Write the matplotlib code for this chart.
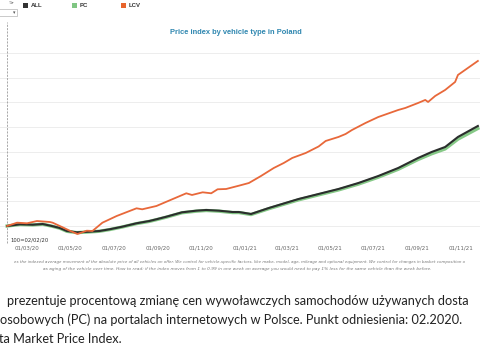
import matplotlib
matplotlib.use("Agg")
import matplotlib.pyplot as plt
import matplotlib.dates as mdates
from matplotlib.patches import Rectangle
import pandas as pd

# values (index, 100 = 02/02/20)
all_dates = ["2020-02-02", "2020-02-20", "2020-03-09", "2020-03-23", "2020-04-05",
             "2020-04-16", "2020-04-26", "2020-05-10", "2020-05-28", "2020-06-11",
             "2020-06-25", "2020-07-13", "2020-08-02", "2020-08-20", "2020-08-30",
             "2020-09-13", "2020-10-05", "2020-10-25", "2020-11-08", "2020-11-26",
             "2020-12-15", "2020-12-24", "2021-01-10", "2021-02-04", "2021-03-18",
             "2021-05-13", "2021-06-10", "2021-07-08", "2021-08-05", "2021-09-02",
             "2021-09-21", "2021-10-10", "2021-10-28", "2021-11-25"]
all_vals = [100.0, 100.34, 100.26, 100.40, 100.0, 99.60, 98.99, 98.72, 98.85, 98.99,
            99.33, 99.86, 100.55, 101.01, 101.36, 101.88, 102.77, 103.10, 103.24, 103.10,
            102.83, 102.83, 102.43, 103.64, 105.47, 107.49, 108.70, 110.12, 111.74, 113.77,
            114.98, 115.99, 118.02, 120.24]
pc_vals = [100.0, 100.30, 100.22, 100.36, 99.96, 99.55, 98.93, 98.66, 98.80, 98.94,
           99.27, 99.80, 100.48, 100.93, 101.28, 101.79, 102.68, 103.00, 103.14, 103.00,
           102.72, 102.72, 102.32, 103.50, 105.30, 107.30, 108.48, 109.88, 111.48, 113.46,
           114.62, 115.60, 117.58, 119.74]

lcv_dates = ["2020-02-02", "2020-02-16", "2020-03-01", "2020-03-15", "2020-04-02",
             "2020-04-06", "2020-04-20", "2020-04-30", "2020-05-11", "2020-05-24",
             "2020-06-01", "2020-06-15", "2020-07-05", "2020-08-02", "2020-08-10",
             "2020-08-30", "2020-09-21", "2020-10-11", "2020-10-19", "2020-11-03",
             "2020-11-15", "2020-11-24", "2020-12-06", "2020-12-24", "2021-01-07",
             "2021-01-24", "2021-02-11", "2021-02-25", "2021-03-09", "2021-03-28",
             "2021-04-15", "2021-04-25", "2021-05-13", "2021-05-23", "2021-06-01",
             "2021-06-20", "2021-07-08", "2021-08-05", "2021-08-15", "2021-09-02",
             "2021-09-12", "2021-09-16", "2021-09-26", "2021-10-10", "2021-10-24",
             "2021-10-28", "2021-11-07", "2021-11-25"]
lcv_vals = [100.0, 100.67, 100.55, 101.01, 100.81, 100.67, 99.74, 99.05, 98.38, 99.05,
            98.99, 100.67, 102.02, 103.58, 103.38, 104.05, 105.40, 106.62, 106.28, 106.82,
            106.62, 107.43, 107.49, 108.16, 108.70, 110.12, 111.74, 112.75, 113.77, 114.78,
            116.09, 117.21, 118.02, 118.62, 119.43, 120.85, 122.06, 123.48, 123.89, 124.90,
            125.51, 125.10, 126.32, 127.53, 129.15, 130.57, 131.58, 133.40]

tick_dates = pd.date_range("2020-03-01", "2021-11-01", freq="2MS")

W, H = 480, 350
fig = plt.figure(figsize=(4.8, 3.5), dpi=100)
fig.patch.set_facecolor("white")


def fx(x):
    return x / W


def fy(y):
    return 1 - y / H


ax = fig.add_axes([0, fy(243), 1, (243 - 45) / H])
ax.plot(pd.to_datetime(all_dates), pc_vals, color="#86c987", lw=2.4, zorder=3)
ax.plot(pd.to_datetime(all_dates), all_vals, color="#2b2e2d", lw=1.5, zorder=4)
ax.plot(pd.to_datetime(lcv_dates), lcv_vals, color="#e8683a", lw=1.3, zorder=5)

ax.set_xlim(pd.Timestamp("2020-01-23"), pd.Timestamp("2021-11-28"))
ax.set_ylim(96.56, 136.63)
ax.set_yticks([100, 105, 110, 115, 120, 125, 130, 135])
ax.yaxis.grid(True, color="#ededed", lw=0.7)
ax.set_axisbelow(True)
ax.tick_params(axis="y", length=0, labelleft=False)
ax.set_xticks(tick_dates)
ax.xaxis.set_major_formatter(mdates.DateFormatter("%d/%m/%y"))
ax.tick_params(axis="x", length=0, pad=2, labelsize=4, labelcolor="#666666")
for s in ax.spines.values():
    s.set_visible(False)

# reference line 100 = 02/02/20
ax.axvline(pd.Timestamp("2020-02-02"), ymin=0, ymax=(243 - 22) / (243 - 45),
           color="#9a9a9a", lw=0.6, ls=(0, (2.5, 1.5)), clip_on=False, zorder=2)
fig.text(fx(10), fy(240), "100=02/02/20", fontsize=3.8, color="#333333",
         ha="left", va="center")

# header: widget, legend, title
fig.patches.append(Rectangle((fx(-2), fy(15.5)), fx(19), 6.5 / H, transform=fig.transFigure,
                             fill=False, ec="#b5b5b5", lw=0.5))
fig.text(fx(14), fy(12.5), "▾", fontsize=3.5, color="#555555", ha="center", va="center")
fig.text(fx(12), fy(3.5), "⇅▾", fontsize=3, color="#888888", ha="center", va="center")

legend = [("ALL", "#333333", 22.7, 30.5), ("PC", "#80c683", 71.7, 79.3),
          ("LCV", "#e8642c", 120.7, 128.3)]
for name, col, sx, tx in legend:
    fig.patches.append(Rectangle((fx(sx), fy(8.2)), 4.8 / W, 4.8 / H,
                                 transform=fig.transFigure, color=col, lw=0))
    fig.text(fx(tx), fy(5.8), name, fontsize=4.3, fontweight="bold", color="#333333",
             ha="left", va="center", family="Liberation Sans")

fig.text(fx(236), fy(33), "Price index by vehicle type in Poland", fontsize=5.4,
         fontweight="bold", color="#2f87b0", ha="center", va="center",
         family="Liberation Sans")

# footnote under the chart
fig.text(fx(240), fy(262),
         "es the indexed average movement of the absolute price of all vehicles on offer. "
         "We control for vehicle-specific factors, like make, model, age, mileage and optional equipment. "
         "We control for changes in basket composition o",
         fontsize=2.9, style="italic", color="#777777", ha="center", va="center")
fig.text(fx(237), fy(269),
         "as aging of the vehicle over time. How to read: if the index moves from 1 to 0.99 in one week "
         "on average you would need to pay 1% less for the same vehicle than the week before.",
         fontsize=3.1, style="italic", color="#777777", ha="center", va="center")

# Polish description below the screenshot
body = dict(fontsize=9.2, color="#222222", ha="left", va="center", family=["Lato", "DejaVu Sans"])
fig.text(fx(7), fy(301), "prezentuje procentową zmianę cen wywoławczych samochodów używanych dosta", **body)
fig.text(fx(0), fy(320), "osobowych (PC) na portalach internetowych w Polsce. Punkt odniesienia: 02.2020.", **body)
fig.text(fx(-1), fy(339), "ta Market Price Index.", **body)

fig.savefig("out.png", dpi=100)
